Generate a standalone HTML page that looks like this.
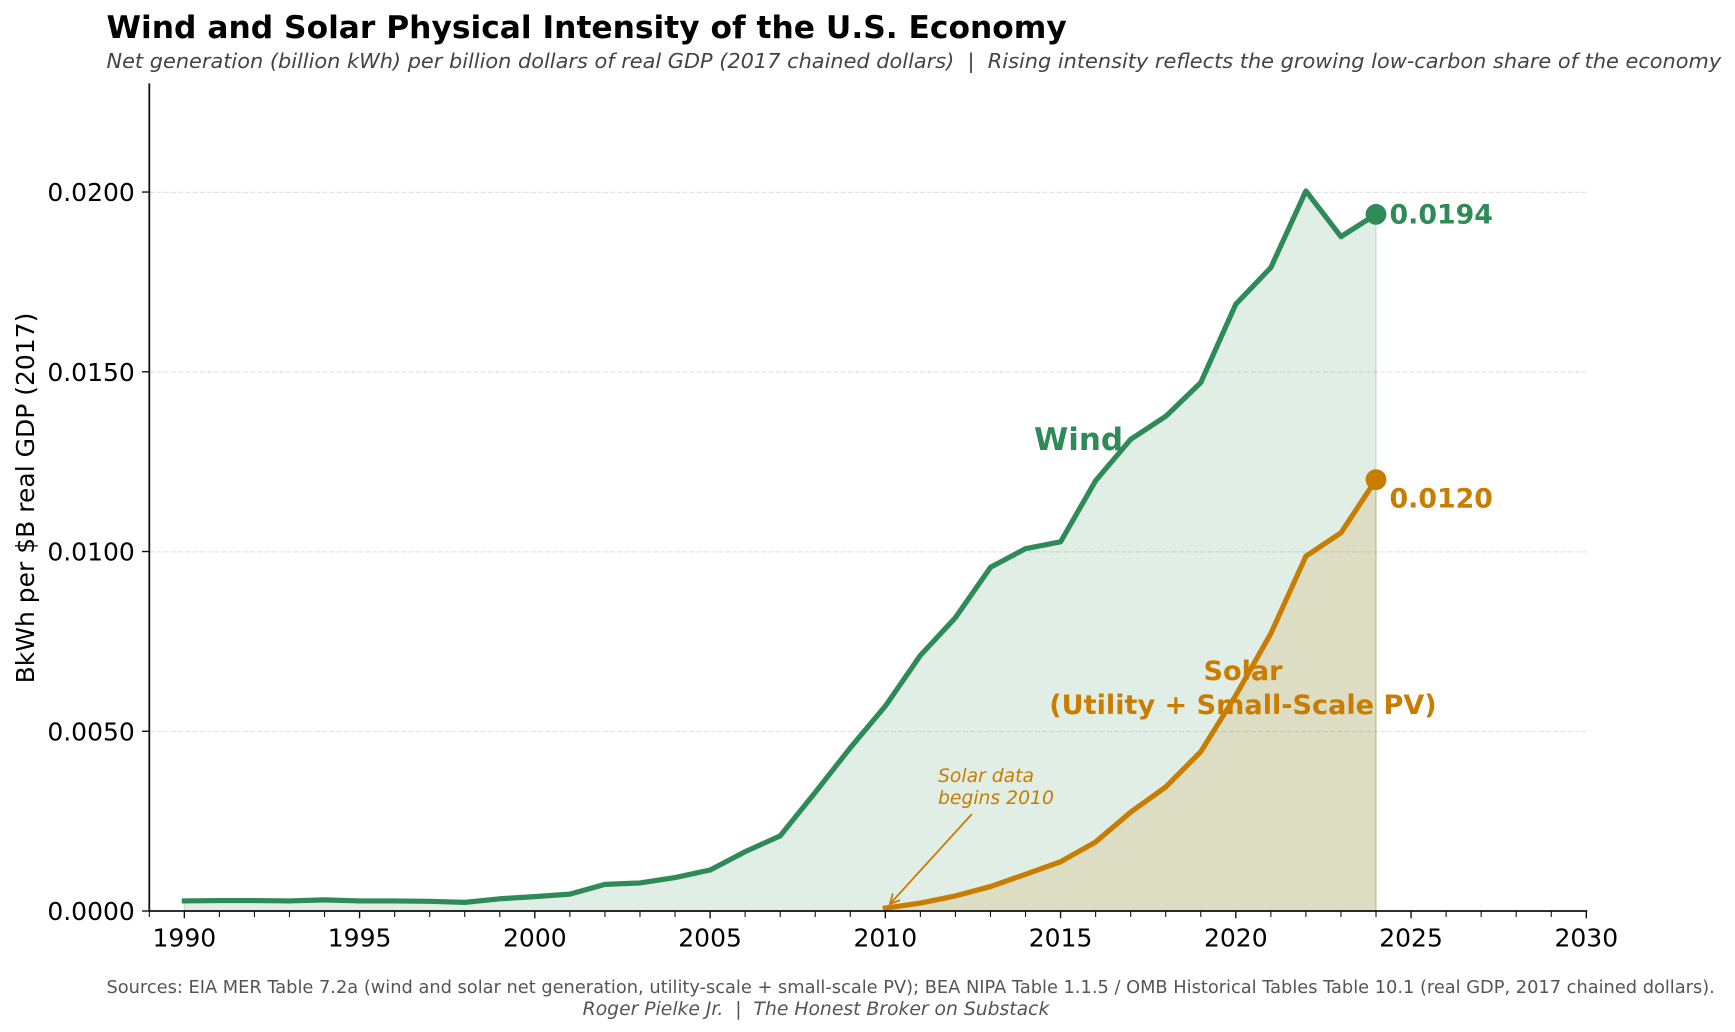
<!DOCTYPE html>
<html lang="en">
<head>
<meta charset="utf-8">
<title>Wind and Solar Physical Intensity of the U.S. Economy</title>
<style>
html,body{margin:0;padding:0;background:#fff;}
svg{display:block;}
text{font-family:"DejaVu Sans","Liberation Sans",sans-serif;white-space:pre;}
</style>
</head>
<body>
<svg id="chart" xmlns="http://www.w3.org/2000/svg" width="1735" height="1032" viewBox="0 0 1735 1032">
  <rect x="0" y="0" width="1735" height="1032" fill="#ffffff"/>
  <text x="106.5" y="38" font-size="31.3" font-weight="700" fill="#000000">Wind and Solar Physical Intensity of the U.S. Economy</text>
  <text x="106.5" y="68" font-size="20.86" font-style="italic" fill="#444444">Net generation (billion kWh) per billion dollars of real GDP (2017 chained dollars)  |  Rising intensity reflects the growing low-carbon share of the economy</text>
  <g id="grid-layer"></g>
  <g id="fill-layer"></g>
  <g id="line-layer"></g>
  <g id="axis-layer"></g>
  <text transform="translate(34 498) rotate(-90)" text-anchor="middle" font-size="25" fill="#000000">BkWh per $B real GDP (2017)</text>
  <text x="1034" y="450" font-size="31" font-weight="700" fill="#2e8b57">Wind</text>
  <text x="1243" y="680" text-anchor="middle" font-size="27.1" font-weight="700" fill="#c87d00">Solar</text>
  <text x="1243" y="714" text-anchor="middle" font-size="27.1" font-weight="700" fill="#c87d00">(Utility + Small-Scale PV)</text>
  <text x="938" y="782" font-size="18.75" font-style="italic" fill="#c87d00">Solar data</text>
  <text x="938" y="804" font-size="18.75" font-style="italic" fill="#c87d00">begins 2010</text>
  <g id="annotation-layer"></g>
  <text x="106.5" y="993" font-size="17.79" fill="#555555">Sources: EIA MER Table 7.2a (wind and solar net generation, utility-scale + small-scale PV); BEA NIPA Table 1.1.5 / OMB Historical Tables Table 10.1 (real GDP, 2017 chained dollars).</text>
  <text x="816" y="1015" text-anchor="middle" font-size="18.75" font-style="italic" fill="#555555">Roger Pielke Jr.  |  The Honest Broker on Substack</text>
</svg>
<script>
const windYears = [1990,1991,1992,1993,1994,1995,1996,1997,1998,1999,2000,2001,2002,2003,2004,2005,2006,2007,2008,2009,2010,2011,2012,2013,2014,2015,2016,2017,2018,2019,2020,2021,2022,2023,2024];
const windValues = [0.00028,0.00029,0.00029,0.00028,0.00031,0.00028,0.00028,0.00027,0.00024,0.00034,0.00040,0.00047,0.00074,0.00078,0.00093,0.00114,0.00165,0.00209,0.00330,0.00454,0.00570,0.00711,0.00816,0.00956,0.01008,0.01027,0.01197,0.01312,0.01376,0.01470,0.01688,0.01790,0.02003,0.01876,0.01938];
const solarYears = [2010,2011,2012,2013,2014,2015,2016,2017,2018,2019,2020,2021,2022,2023,2024];
const solarValues = [0.00008,0.00022,0.00042,0.00068,0.00102,0.00137,0.00192,0.00275,0.00345,0.00443,0.00600,0.00772,0.00987,0.01052,0.01200];
const xTickLabels = [1990,1995,2000,2005,2010,2015,2020,2025,2030];
const xMinorTicks = [1989,1991,1992,1993,1994,1996,1997,1998,1999,2001,2002,2003,2004,2006,2007,2008,2009,2011,2012,2013,2014,2016,2017,2018,2019,2021,2022,2023,2024,2026,2027,2028,2029];
const yTickValues = [0,0.005,0.01,0.015,0.02];
const solarStartYear = [2010];

const NS = 'http://www.w3.org/2000/svg';
const plotLeft = 149.3, plotRight = 1586.3, plotTop = 84.2, plotBottom = 911;
const xMin = 1989, xMax = 2030, yMin = 0, yMax = 0.023;
function xScale(v){ return plotLeft + (v - xMin) / (xMax - xMin) * (plotRight - plotLeft); }
function yScale(v){ return plotBottom - (v - yMin) / (yMax - yMin) * (plotBottom - plotTop); }
function make(tag, parent, attrs){
  const el = document.createElementNS(NS, tag);
  for (const k in attrs) el.setAttribute(k, attrs[k]);
  parent.appendChild(el);
  return el;
}
function linePath(xs, ys){
  return xs.map(function(x, i){ return (i ? 'L' : 'M') + xScale(x).toFixed(2) + ' ' + yScale(ys[i]).toFixed(2); }).join(' ');
}
function areaPath(xs, ys){
  return linePath(xs, ys) + ' L' + xScale(xs[xs.length - 1]).toFixed(2) + ' ' + yScale(0).toFixed(2) + ' L' + xScale(xs[0]).toFixed(2) + ' ' + yScale(0).toFixed(2) + ' Z';
}

const gridLayer = document.getElementById('grid-layer');
const fillLayer = document.getElementById('fill-layer');
const lineLayer = document.getElementById('line-layer');
const axisLayer = document.getElementById('axis-layer');
const annotationLayer = document.getElementById('annotation-layer');
const GREEN = '#2e8b57', ORANGE = '#c87d00', AXIS = '#111111';

yTickValues.filter(function(v){ return v > 0; }).forEach(function(v){
  const g = make('line', gridLayer, {x1: plotLeft, x2: plotRight, y1: yScale(v) + 0.3, y2: yScale(v) + 0.3, stroke: '#000000', 'stroke-opacity': 0.11, 'stroke-width': 1.25, 'stroke-dasharray': '5 2.2'});
  
  
});

const windArea = make('path', fillLayer, {d: areaPath(windYears, windValues), fill: GREEN, 'fill-opacity': 0.15, stroke: GREEN, 'stroke-opacity': 0.15, 'stroke-width': 2});


const solarArea = make('path', fillLayer, {d: areaPath(solarYears, solarValues), fill: ORANGE, 'fill-opacity': 0.15, stroke: ORANGE, 'stroke-opacity': 0.15, 'stroke-width': 2});



const windLine = make('path', lineLayer, {d: linePath(windYears, windValues), fill: 'none', stroke: GREEN, 'stroke-width': 5.2, 'stroke-linejoin': 'round', 'stroke-linecap': 'square'});


const solarLine = make('path', lineLayer, {d: linePath(solarYears, solarValues), fill: 'none', stroke: ORANGE, 'stroke-width': 5.2, 'stroke-linejoin': 'round', 'stroke-linecap': 'square'});



const windLastX = windYears[windYears.length - 1], windLast = windValues[windValues.length - 1];
const solarLastX = solarYears[solarYears.length - 1], solarLast = solarValues[solarValues.length - 1];
const windDot = make('circle', lineLayer, {cx: xScale(windLastX), cy: yScale(windLast), r: 10.4, fill: GREEN});


const solarDot = make('circle', lineLayer, {cx: xScale(solarLastX), cy: yScale(solarLast), r: 10.4, fill: ORANGE});


const windValueLabel = make('text', lineLayer, {x: xScale(windLastX) + 13.5, y: yScale(windLast) + 9, 'font-size': 26.8, 'font-weight': 700, fill: GREEN});
windValueLabel.textContent = windLast.toFixed(4);


const solarValueLabel = make('text', lineLayer, {x: xScale(solarLastX) + 13.5, y: yScale(solarLast) + 28, 'font-size': 26.8, 'font-weight': 700, fill: ORANGE});
solarValueLabel.textContent = solarLast.toFixed(4);



const ySpine = make('line', axisLayer, {x1: plotLeft, x2: plotLeft, y1: plotTop - 0.8, y2: plotBottom + 0.9, stroke: AXIS, 'stroke-width': 1.8});


const xSpine = make('line', axisLayer, {x1: plotLeft - 0.9, x2: plotRight + 0.9, y1: plotBottom, y2: plotBottom, stroke: AXIS, 'stroke-width': 1.8});



xMinorTicks.forEach(function(v){
  const t = make('line', axisLayer, {x1: xScale(v), x2: xScale(v), y1: plotBottom, y2: plotBottom + 6, stroke: AXIS, 'stroke-width': 1.1});
  
  
});
xTickLabels.forEach(function(v){
  const t = make('line', axisLayer, {x1: xScale(v), x2: xScale(v), y1: plotBottom, y2: plotBottom + 7.3, stroke: AXIS, 'stroke-width': 1.4});
  
  
  const lbl = make('text', axisLayer, {x: xScale(v), y: plotBottom + 35.5, 'text-anchor': 'middle', 'font-size': 25, fill: '#000000'});
  lbl.textContent = String(v);
  
  
});
yTickValues.forEach(function(v){
  const t = make('line', axisLayer, {x1: plotLeft - 7.3, x2: plotLeft, y1: yScale(v), y2: yScale(v), stroke: AXIS, 'stroke-width': 1.4});
  
  
  const lbl = make('text', axisLayer, {x: plotLeft - 14.5, y: yScale(v) + 9, 'text-anchor': 'end', 'font-size': 25, fill: '#000000'});
  lbl.textContent = v.toFixed(4);
  
  
});

const tipX = xScale(solarStartYear[0]) + 4.5, tipY = yScale(solarValues[0]) - 4;
const tailX = tipX + 82, tailY = tipY - 90;
const shaft = make('line', annotationLayer, {x1: tailX, y1: tailY, x2: tipX, y2: tipY, stroke: ORANGE, 'stroke-width': 1.8});


const ang = Math.atan2(tailY - tipY, tailX - tipX), headLen = 11, headSpread = 0.46;
const head = make('path', annotationLayer, {d: 'M' + (tipX + headLen * Math.cos(ang + headSpread)) + ' ' + (tipY + headLen * Math.sin(ang + headSpread)) + ' L' + tipX + ' ' + tipY + ' L' + (tipX + headLen * Math.cos(ang - headSpread)) + ' ' + (tipY + headLen * Math.sin(ang - headSpread)), fill: 'none', stroke: ORANGE, 'stroke-width': 1.8});


</script>
</body>
</html>
